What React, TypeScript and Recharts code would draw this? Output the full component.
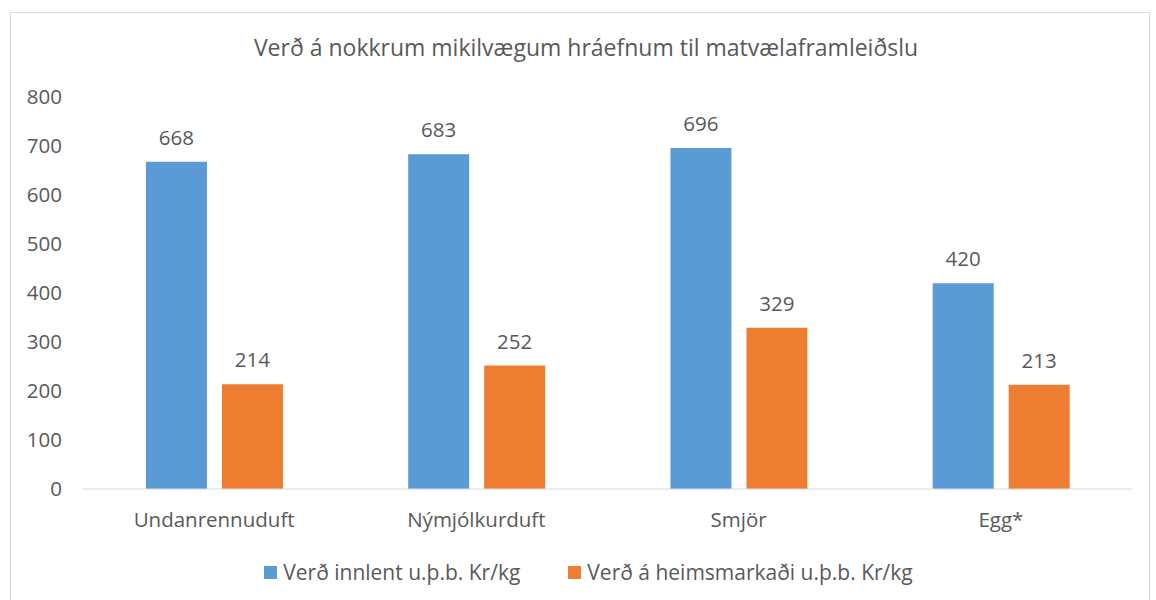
import React from "react";
import { BarChart, Bar, XAxis, YAxis, LabelList } from "recharts";

const categories = ["Undanrennuduft", "Nýmjólkurduft", "Smjör", "Egg*"];
const domesticPrice = [668, 683, 696, 420];
const worldPrice = [214, 252, 329, 213];
const yTicks = [0, 100, 200, 300, 400, 500, 600, 700, 800];
const seriesNames = ["Verð innlent u.þ.b. Kr/kg", "Verð á heimsmarkaði u.þ.b. Kr/kg"];
const title = "Verð á nokkrum mikilvægum hráefnum til matvælaframleiðslu";

const data = categories.map((c, i) => ({
  name: c,
  domestic: domesticPrice[i],
  world: worldPrice[i],
}));

const FONT = "'Open Sans', sans-serif";
const TEXT = "#595959";
const BLUE = "#5B9BD5";
const ORANGE = "#ED7D31";
const COLORS = [BLUE, ORANGE];

export default function App() {
  return (
    <div style={{ position: "absolute", left: 0, top: 0, width: 1156, height: 600, background: "#fff" }}>
      <div
        style={{
          position: "absolute",
          left: 10,
          top: 12,
          width: 1140,
          height: 590,
          border: "1px solid #D9D9D9",
          boxSizing: "border-box",
        }}
      />
      <div
        style={{
          position: "absolute",
          left: 0,
          top: 31,
          width: 1172,
          textAlign: "center",
          fontFamily: FONT,
          fontSize: 23,
          color: TEXT,
          whiteSpace: "nowrap",
        }}
      >
        {title}
      </div>
      <div style={{ position: "absolute", left: 0, top: 0 }}>
        <BarChart
          width={1156}
          height={600}
          data={data}
          margin={{ top: 97, right: 24, bottom: 61, left: 0 }}
          barGap={15}
          barCategoryGap="24%"
        >
          <XAxis
            dataKey="name"
            axisLine={{ stroke: "#D9D9D9", strokeWidth: 1 }}
            tickLine={false}
            tickSize={0}
            tickMargin={23}
            tick={{ fill: TEXT, fontSize: 20.5, fontFamily: FONT }}
            height={50}
          />
          <YAxis
            domain={[0, 800]}
            ticks={yTicks}
            axisLine={false}
            tickLine={false}
            tickSize={0}
            tickMargin={21}
            width={83}
            tick={{ fill: TEXT, fontSize: 20.5, fontFamily: FONT }}
          />
          <Bar dataKey="domestic" fill={BLUE} isAnimationActive={false}>
            <LabelList dataKey="domestic" position="top" offset={17} fill={TEXT} fontSize={20.5} fontFamily={FONT} />
          </Bar>
          <Bar dataKey="world" fill={ORANGE} isAnimationActive={false}>
            <LabelList dataKey="world" position="top" offset={17} fill={TEXT} fontSize={20.5} fontFamily={FONT} />
          </Bar>
        </BarChart>
      </div>
      <div
        style={{
          position: "absolute",
          left: 0,
          top: 558,
          width: 1156,
          display: "flex",
          justifyContent: "center",
          paddingLeft: 21,
          boxSizing: "border-box",
          fontFamily: FONT,
          fontSize: 21,
          color: TEXT,
          whiteSpace: "nowrap",
        }}
      >
        {seriesNames.map((n, i) => (
          <div key={i} style={{ display: "flex", alignItems: "center", marginRight: i === 0 ? 48 : 0 }}>
            <span style={{ width: 13, height: 13, background: COLORS[i], display: "inline-block", marginRight: 6 }} />
            <span>{n}</span>
          </div>
        ))}
      </div>
    </div>
  );
}
